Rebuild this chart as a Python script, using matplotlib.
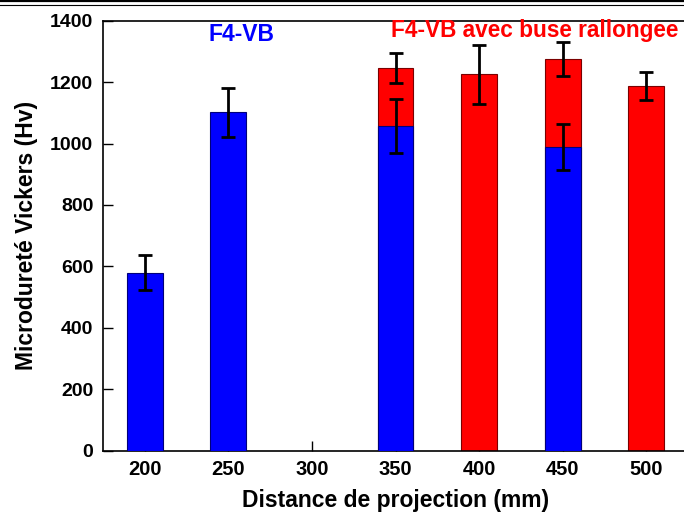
import numpy as np
import matplotlib
matplotlib.use("Agg")
from matplotlib import pyplot as plt
from matplotlib.lines import Line2D

# microhardness data
dist_blue = [200, 250, 350, 450]
hv_blue = [580, 1102, 1057, 990]
err_blue = [58, 80, 88, 75]

dist_red = [350, 400, 450, 500]
hv_red = [1245, 1225, 1275, 1187]
err_red = [49, 97, 56, 45]

xticks = [200, 250, 300, 350, 400, 450, 500]
yticks = [0, 200, 400, 600, 800, 1000, 1200, 1400]

plt.rcParams['font.family'] = ['Liberation Sans', 'DejaVu Sans']
plt.rcParams['font.weight'] = 'bold'

fig = plt.figure(figsize=(6.84, 5.17), dpi=100)
ax = fig.add_axes([103/684, (517-450.7)/517, 585/684, 430/517])

w = 21.5
ax.bar(dist_red, hv_red, width=w, color="#ff0000", edgecolor="#7a0000", linewidth=0.8, zorder=2)
ax.bar(dist_blue, hv_blue, width=w, color="#0000ff", edgecolor="#00007a", linewidth=0.8, zorder=3)

ax.errorbar(dist_red, hv_red, yerr=err_red, fmt="none", ecolor="black", elinewidth=2.0,
            capsize=5, capthick=2.0, zorder=4)
ax.errorbar(dist_blue, hv_blue, yerr=err_blue, fmt="none", ecolor="black", elinewidth=2.0,
            capsize=5, capthick=2.0, zorder=4)

ax.set_xlim(175, 525)
ax.set_ylim(0, 1400)
ax.set_xticks(xticks)
ax.set_yticks(yticks)
ax.tick_params(axis='y', direction='in', length=7, width=1.0, labelsize=14, pad=7)
ax.tick_params(axis='x', direction='in', length=7, width=1.0, labelsize=14.5, pad=7)
for lab in ax.get_xticklabels() + ax.get_yticklabels():
    lab.set_fontweight('bold')
for s in ax.spines.values():
    s.set_linewidth(1.2)

ax.set_xlabel("Distance de projection (mm)", fontsize=16.5, fontweight='bold', labelpad=7)
ax.set_ylabel("Microdureté Vickers (Hv)", fontsize=16.5, fontweight='bold', labelpad=9)

ax.text(0.1795, 0.9528, "F4-VB", transform=ax.transAxes, color="#0000ff",
        fontsize=16.5, fontweight='bold', va='baseline', ha='left')
ax.text(0.4923, 0.962, "F4-VB avec buse rallongee", transform=ax.transAxes, color="#ff0000",
        fontsize=16.3, fontweight='bold', va='baseline', ha='left')

# double rule at the top of the page
fig.add_artist(Line2D([0, 1], [1 - 1/517, 1 - 1/517], transform=fig.transFigure, color="black", lw=1.6))
fig.add_artist(Line2D([0, 1], [1 - 4.5/517, 1 - 4.5/517], transform=fig.transFigure, color="black", lw=0.8))

fig.savefig("out.png", dpi=100)
